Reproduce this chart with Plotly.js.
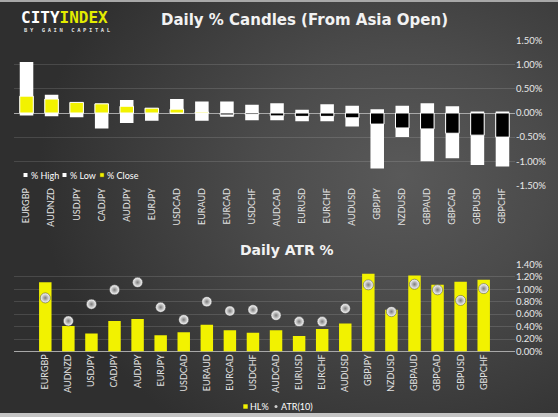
<!DOCTYPE html>
<html>
<head>
<meta charset="utf-8">
<script src="https://cdn.plot.ly/plotly-3.0.1.min.js"></script>
<style>
html,body{margin:0;padding:0;width:558px;height:417px;overflow:hidden;background:#333;}
#wrap{position:relative;width:558px;height:417px;
  background:radial-gradient(ellipse 65% 75% at 72% 42%, #595959 0%, #4b4b4b 40%, #3b3b3b 75%, #2f2f2f 100%);}
#chart{position:absolute;left:0;top:0;width:558px;height:417px;}
.st{position:absolute;left:0;top:0;width:558px;height:2px;background:#a8a8a8;}
.sb{position:absolute;left:0;bottom:0;width:558px;height:4px;background:#c4c4c4;}
</style>
</head>
<body>
<div id="wrap"><div id="chart"></div><div class="st"></div><div class="sb"></div></div>
<script>
// ---- data ----
const pairs = ["EURGBP","AUDNZD","USDJPY","CADJPY","AUDJPY","EURJPY","USDCAD","EURAUD","EURCAD","USDCHF",
               "AUDCAD","EURUSD","EURCHF","AUDUSD","GBPJPY","NZDUSD","GBPAUD","GBPCAD","GBPUSD","GBPCHF"];
const highPct  = [1.06, 0.38, 0.22, 0.19, 0.27, 0.10, 0.29, 0.24, 0.24, 0.17,
                  0.20, 0.07, 0.18, 0.15, 0.08, 0.15, 0.20, 0.14, 0.03, 0.03];
const lowPct   = [-0.05,-0.07,-0.09,-0.32,-0.21,-0.16,-0.02,-0.16,-0.08,-0.15,
                  -0.15,-0.17,-0.17,-0.28,-1.15,-0.50,-1.00,-0.94,-1.08,-1.11];
const closePct = [0.35, 0.29, 0.22, 0.19, 0.14, 0.10, 0.08, 0.02,-0.04,-0.03,
                  -0.06,-0.07,-0.07,-0.10,-0.23,-0.31,-0.33,-0.42,-0.46,-0.50];
const hlPct    = [1.11, 0.41, 0.29, 0.49, 0.52, 0.26, 0.31, 0.43, 0.34, 0.30,
                  0.34, 0.25, 0.36, 0.45, 1.25, 0.67, 1.22, 1.07, 1.12, 1.15];
const atrPct   = [0.86, 0.49, 0.76, 0.99, 1.11, 0.71, 0.51, 0.80, 0.65, 0.67,
                  0.58, 0.48, 0.48, 0.69, 1.07, 0.64, 1.08, 0.99, 0.82, 1.01];
const candleTicks = [-1.5,-1.0,-0.5,0,0.5,1.0,1.5];
const atrTicks = [0,0.2,0.4,0.6,0.8,1.0,1.2,1.4];
const candleLegend = ["% High","% Low","% Close"];
const atrLegend = ["HL%","ATR(10)"];

// ---- styling ----
const W = 558, H = 417;
const YEL = '#f2f200';
const fx = v => v / W;
const fy = v => 1 - v / H;
const FONT = 'Lato, "Open Sans", sans-serif';
const closeColors = closePct.map(v => v >= 0 ? YEL : '#000000');
const pctText = t => t.toFixed(2) + '%';

const traces = [
  {type:'bar', name:candleLegend[0], x:pairs, y:highPct, xaxis:'x', yaxis:'y',
   marker:{color:'#ffffff', line:{width:0}}, hoverinfo:'x+y'},
  {type:'bar', name:candleLegend[1], x:pairs, y:lowPct, xaxis:'x', yaxis:'y',
   marker:{color:'#ffffff', line:{width:0}}, hoverinfo:'x+y'},
  {type:'bar', name:candleLegend[2], x:pairs, y:closePct, xaxis:'x', yaxis:'y',
   marker:{color:closeColors, line:{color:'#ffffff', width:1}}, hoverinfo:'x+y'},
  {type:'bar', name:atrLegend[0], x:pairs, y:hlPct, xaxis:'x2', yaxis:'y2',
   marker:{color:YEL, line:{width:0}}, hoverinfo:'x+y'},
  {type:'scatter', mode:'markers', name:atrLegend[1], x:pairs, y:atrPct, xaxis:'x2', yaxis:'y2',
   marker:{symbol:'circle', size:10, color:'#ffffff', gradient:{type:'radial', color:'#7c7c7c'},
           line:{color:'#3a3a3a', width:0.5}}, hoverinfo:'x+y'}
];

const xdom = [fx(14), fx(515)];
const commonX = {type:'category', tickangle:-90, showgrid:false, zeroline:false, showline:false, ticks:'',
  tickfont:{family:FONT, size:9, color:'#e2e2e2'}, fixedrange:true};
const commonY = {side:'right', showline:false, ticks:'',
  gridcolor:'rgba(255,255,255,0.13)', gridwidth:1, zeroline:true, zerolinecolor:'#a8a8a8', zerolinewidth:1,
  tickfont:{family:FONT, size:9.5, color:'#e8e8e8'}, fixedrange:true};

// manual compact legends (shapes + text)
const legShapes = [], legAnn = [];
function legSquare(cx, cy, s, color, line){
  legShapes.push({type:'rect', xref:'paper', yref:'paper', x0:fx(cx - s/2), x1:fx(cx + s/2),
    y0:fy(cy + s/2), y1:fy(cy - s/2), fillcolor:color, line:{color:line || color, width:line ? 0.6 : 0}});
}
function legText(x, y, t){
  legAnn.push({text:t, x:fx(x), y:fy(y), xref:'paper', yref:'paper', xanchor:'left', yanchor:'middle',
    showarrow:false, font:{family:FONT, size:9, color:'#ffffff'}});
}
legSquare(25.5, 175, 4, '#ffffff'); legText(28.5, 175, candleLegend[0]);
legSquare(64.5, 175, 4, '#ffffff'); legText(67.5, 175, candleLegend[1]);
legSquare(102, 175, 4.5, YEL, '#222222'); legText(105, 175, candleLegend[2]);
legSquare(245.5, 406.5, 5, YEL, '#333333'); legText(248, 406.5, atrLegend[0]);
legShapes.push({type:'circle', xref:'paper', yref:'paper', x0:fx(274.5), x1:fx(277.5), y0:fy(408), y1:fy(405),
  fillcolor:'#cfcfcf', line:{width:0}});
legText(279, 406.5, atrLegend[1]);

const layout = {
  width:W, height:H, margin:{l:0,r:0,t:0,b:0},
  paper_bgcolor:'rgba(0,0,0,0)', plot_bgcolor:'rgba(0,0,0,0)',
  barmode:'overlay', bargap:0.46, showlegend:false,
  font:{family:FONT, color:'#e6e6e6', size:9},
  xaxis:Object.assign({}, commonX, {domain:xdom, anchor:'y'}),
  yaxis:Object.assign({}, commonY, {domain:[fy(185.3), fy(40.7)], anchor:'x', range:[-1.5,1.5],
        tickvals:candleTicks, ticktext:candleTicks.map(pctText)}),
  xaxis2:Object.assign({}, commonX, {domain:xdom, anchor:'y2'}),
  yaxis2:Object.assign({}, commonY, {domain:[fy(351.5), fy(264.3)], anchor:'x2', range:[0,1.4],
        tickvals:atrTicks, ticktext:atrTicks.map(pctText)}),
  shapes:legShapes,
  annotations:[
    {text:'<b>Daily % Candles (From Asia Open)</b>', x:fx(304), y:fy(20), xref:'paper', yref:'paper',
     xanchor:'center', yanchor:'middle', showarrow:false, font:{family:'DejaVu Sans', size:15, color:'#f2f2f2'}},
    {text:'<b>Daily ATR %</b>', x:fx(287), y:fy(250), xref:'paper', yref:'paper',
     xanchor:'center', yanchor:'middle', showarrow:false, font:{family:'DejaVu Sans', size:14, color:'#f2f2f2'}},
    {text:'<b>CITY<span style="color:#e4ec00">INDEX</span></b>', x:fx(19), y:fy(18), xref:'paper', yref:'paper',
     xanchor:'left', yanchor:'middle', showarrow:false, font:{family:'DejaVu Sans Mono', size:16, color:'#ffffff'}},
    {text:'<b><span style="letter-spacing:2.6px">BY GAIN CAPITAL</span></b>', x:fx(22), y:fy(30.5), xref:'paper', yref:'paper',
     xanchor:'left', yanchor:'middle', showarrow:false, font:{family:'DejaVu Sans Mono', size:5.5, color:'#dddddd'}}
  ].concat(legAnn)
};

Plotly.newPlot('chart', traces, layout, {staticPlot:true, displayModeBar:false});
</script>
</body>
</html>
